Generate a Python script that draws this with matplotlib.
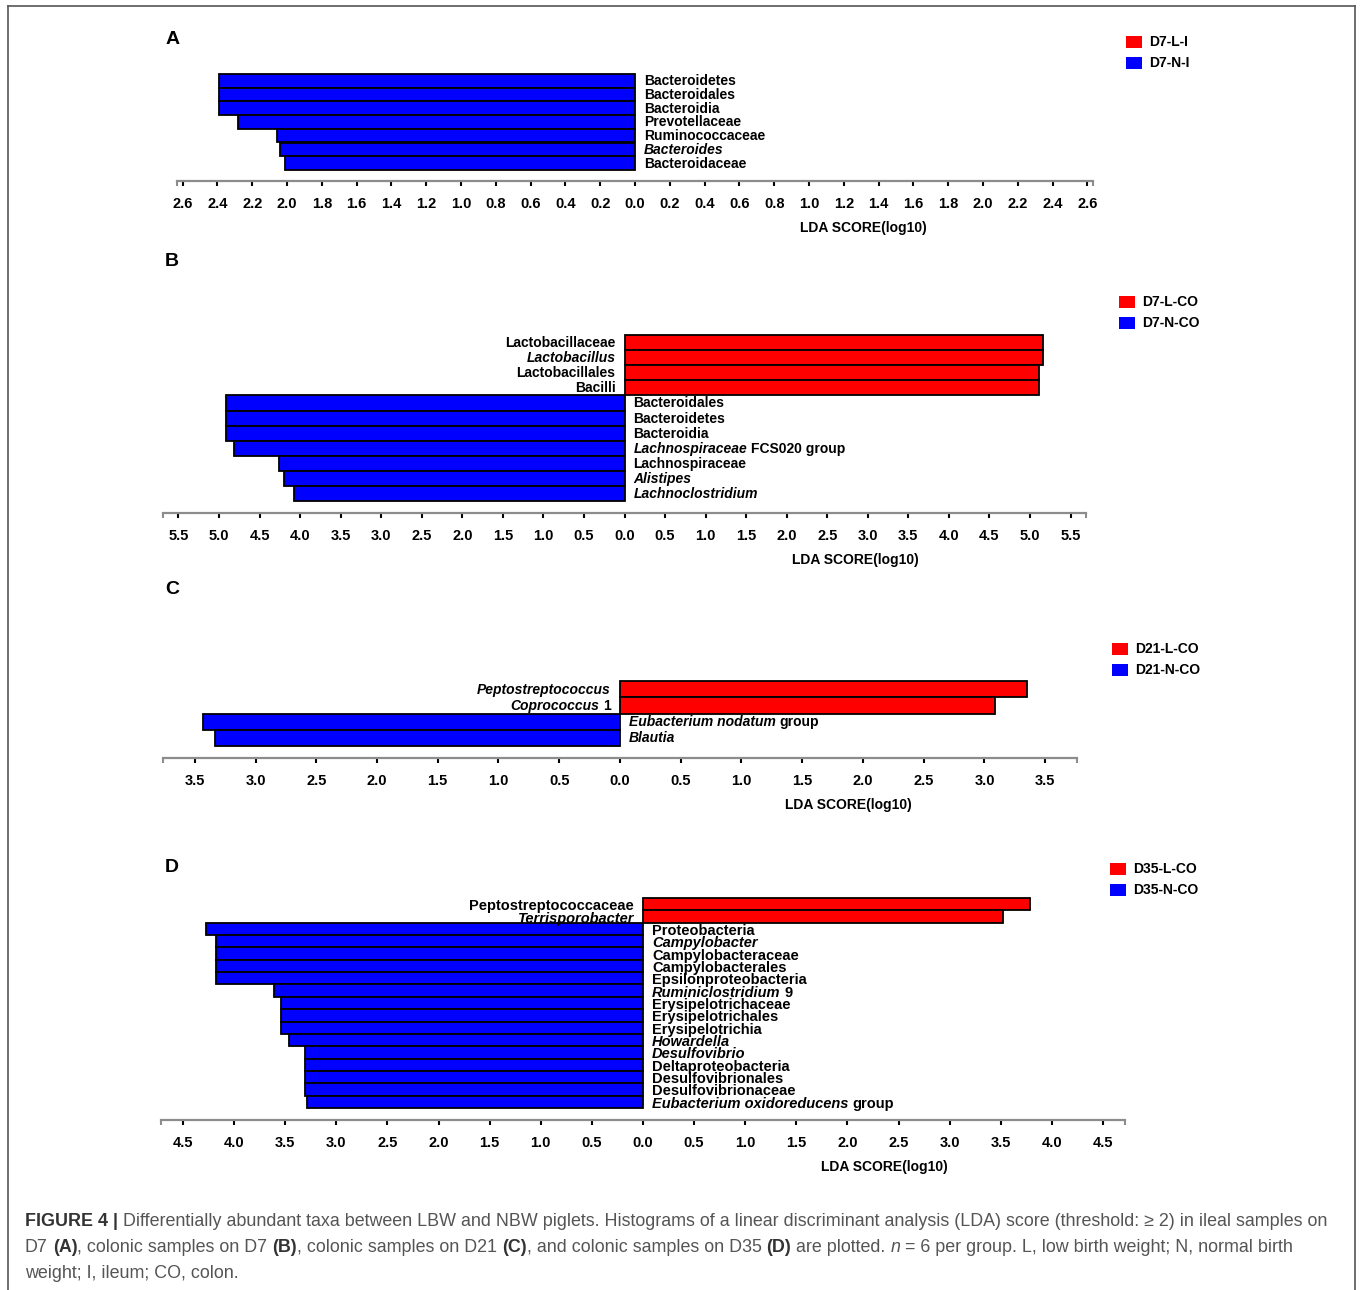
import re
import numpy as np
import matplotlib
matplotlib.use("Agg")
import matplotlib.pyplot as plt
from matplotlib.patches import Rectangle
from matplotlib.lines import Line2D
from matplotlib.ticker import FuncFormatter

plt.rcParams["font.family"] = ["Liberation Sans", "DejaVu Sans"]

# ---- LDA scores (log10); "_..._" marks italic text ----
a_legend = ["D7-L-I", "D7-N-I"]
a_red_labels = []
a_red_scores = []
a_blue_labels = ["Bacteroidetes", "Bacteroidales", "Bacteroidia", "Prevotellaceae",
                 "Ruminococcaceae", "_Bacteroides_", "Bacteroidaceae"]
a_blue_scores = [2.39, 2.39, 2.39, 2.28, 2.06, 2.04, 2.01]

b_legend = ["D7-L-CO", "D7-N-CO"]
b_red_labels = ["Lactobacillaceae", "_Lactobacillus_", "Lactobacillales", "Bacilli"]
b_red_scores = [5.16, 5.16, 5.11, 5.11]
b_blue_labels = ["Bacteroidales", "Bacteroidetes", "Bacteroidia",
                 "_Lachnospiraceae_ FCS020 group", "Lachnospiraceae",
                 "_Alistipes_", "_Lachnoclostridium_"]
b_blue_scores = [4.91, 4.91, 4.91, 4.82, 4.26, 4.20, 4.08]

c_legend = ["D21-L-CO", "D21-N-CO"]
c_red_labels = ["_Peptostreptococcus_", "_Coprococcus_ 1"]
c_red_scores = [3.35, 3.09]
c_blue_labels = ["_Eubacterium nodatum_ group", "_Blautia_"]
c_blue_scores = [3.43, 3.33]

d_legend = ["D35-L-CO", "D35-N-CO"]
d_red_labels = ["Peptostreptococcaceae", "_Terrisporobacter_"]
d_red_scores = [3.79, 3.52]
d_blue_labels = ["Proteobacteria", "_Campylobacter_", "Campylobacteraceae",
                 "Campylobacterales", "Epsilonproteobacteria", "_Ruminiclostridium_ 9",
                 "Erysipelotrichaceae", "Erysipelotrichales", "Erysipelotrichia",
                 "_Howardella_", "_Desulfovibrio_", "Deltaproteobacteria",
                 "Desulfovibrionales", "Desulfovibrionaceae",
                 "_Eubacterium oxidoreducens_ group"]
d_blue_scores = [4.28, 4.18, 4.18, 4.18, 4.18, 3.61, 3.54, 3.54, 3.54,
                 3.46, 3.31, 3.31, 3.31, 3.31, 3.29]

caption_lines = [
    "**FIGURE 4 |** Differentially abundant taxa between LBW and NBW piglets. Histograms of a "
    "linear discriminant analysis (LDA) score (threshold: \u2265 2) in ileal samples on",
    "D7 **(A)**, colonic samples on D7 **(B)**, colonic samples on D21 **(C)**, and colonic "
    "samples on D35 **(D)** are plotted. _n_ = 6 per group. L, low birth weight; N, normal birth",
    "weight; I, ileum; CO, colon.",
]

RED = "#ff0000"
BLUE = "#0000ff"
GREY = "#8c8c8c"

W, H = 1360, 1290
fig = plt.figure(figsize=(W / 100, H / 100), dpi=100)
renderer = fig.canvas.get_renderer()


def px_rect(x0, y0, x1, y1):
    return [x0 / W, 1 - y1 / H, (x1 - x0) / W, (y1 - y0) / H]


def text_width(s, **props):
    t = fig.text(0, 0, s, **props)
    w = t.get_window_extent(renderer).width
    t.remove()
    return w


def split_runs(s, base_weight):
    # split "**bold**" and "_italic_" pieces out of a plain string
    runs = []
    for piece in re.split(r"(\*\*[^*]+\*\*|_[^_]+_)", s):
        if not piece:
            continue
        if piece.startswith("**"):
            runs.append((piece[2:-2], "bold", "normal"))
        elif piece.startswith("_") and piece.endswith("_") and len(piece) > 1:
            runs.append((piece[1:-1], base_weight, "italic"))
        else:
            runs.append((piece, base_weight, "normal"))
    return runs


def draw_runs(ax, s, xy, xycoords, dx, ha, fontsize, base_weight="bold", color="black",
              bold_color=None, dy=0.0):
    runs = split_runs(s, base_weight)
    placed = []
    cur = 0.0
    for raw, weight, style in runs:
        props = dict(fontsize=fontsize, fontweight=weight, fontstyle=style)
        space = text_width("a a", **props) - text_width("aa", **props)
        if raw.startswith(" "):
            cur += space
        core = raw.strip()
        if core:
            placed.append((core, props, cur))
            cur += text_width(core, **props)
        if raw.endswith(" ") and core:
            cur += space
    start = dx if ha == "left" else dx - cur
    for core, props, off in placed:
        c = bold_color if (bold_color and props["fontweight"] == "bold") else color
        ax.annotate(core, xy=xy, xycoords=xycoords,
                    xytext=((start + off) * 0.72, -dy * 0.72), textcoords="offset points",
                    ha="left", va="center", color=c, annotation_clip=False, **props)


panels = [
    dict(letter="A", legend=a_legend, red=(a_red_labels, a_red_scores),
         blue=(a_blue_labels, a_blue_scores), zero=635, unit=174.0, lim=2.63,
         tmax=2.6, step=0.2, top=74, bar_h=13.7, axis_y=181, fs=10, dy=0.5,
         letter_xy=(173, 39), leg_x=1126, leg_y=42),
    dict(letter="B", legend=b_legend, red=(b_red_labels, b_red_scores),
         blue=(b_blue_labels, b_blue_scores), zero=624.5, unit=81.1, lim=5.69,
         tmax=5.5, step=0.5, top=335, bar_h=15.1, axis_y=513, fs=10, dy=0.5,
         letter_xy=(172, 262), leg_x=1119, leg_y=302),
    dict(letter="C", legend=c_legend, red=(c_red_labels, c_red_scores),
         blue=(c_blue_labels, c_blue_scores), zero=620, unit=121.5, lim=3.76,
         tmax=3.5, step=0.5, top=681, bar_h=16.25, axis_y=758, fs=10, dy=0.5,
         letter_xy=(172, 590), leg_x=1112, leg_y=649),
    dict(letter="D", legend=d_legend, red=(d_red_labels, d_red_scores),
         blue=(d_blue_labels, d_blue_scores), zero=643, unit=102.2, lim=4.72,
         tmax=4.5, step=0.5, top=898, bar_h=12.35, axis_y=1120, fs=10.5, dy=2,
         letter_xy=(172, 867), leg_x=1110, leg_y=869),
]

for p in panels:
    red_labels, red_scores = p["red"]
    blue_labels, blue_scores = p["blue"]
    labels = list(red_labels) + list(blue_labels)
    scores = list(red_scores) + [-v for v in blue_scores]
    colors = [RED] * len(red_labels) + [BLUE] * len(blue_labels)
    n = len(labels)

    x0 = p["zero"] - p["lim"] * p["unit"]
    x1 = p["zero"] + p["lim"] * p["unit"]
    ax = fig.add_axes(px_rect(x0, p["top"], x1, p["axis_y"]))

    pos = np.arange(n)
    bars = ax.barh(pos, scores, height=1.0, color=colors, edgecolor="black", linewidth=1.3)
    for b in bars:
        b.set_clip_on(False)

    gap = (p["axis_y"] - p["top"]) / p["bar_h"] - n
    ax.set_ylim(n - 0.5 + gap, -0.5)
    ax.set_xlim(-p["lim"], p["lim"])

    # symmetric axis, labelled with absolute values
    ticks = np.round(np.arange(-p["tmax"], p["tmax"] + p["step"] / 2, p["step"]), 2)
    ax.set_xticks(ticks)
    ax.xaxis.set_major_formatter(FuncFormatter(lambda v, _: f"{abs(v):.1f}"))
    ax.set_xticks([-p["lim"], p["lim"]], minor=True)
    ax.tick_params(axis="x", which="major", direction="out", length=3.6, width=1.5,
                   color="black", pad=8, labelsize=10.5)
    ax.tick_params(axis="x", which="minor", direction="out", length=3.6, width=1.5,
                   color=GREY)
    for lbl in ax.get_xticklabels():
        lbl.set_fontweight("bold")
    ax.set_yticks([])
    for side in ["top", "left", "right"]:
        ax.spines[side].set_visible(False)
    ax.spines["bottom"].set_color(GREY)
    ax.spines["bottom"].set_linewidth(1.6)
    ax.patch.set_visible(False)

    ax.annotate("LDA SCORE(log10)", xy=(0.75, 0), xycoords="axes fraction",
                xytext=(0, -47 * 0.72), textcoords="offset points",
                ha="center", va="center", fontsize=10, fontweight="bold")

    # taxon names sit on the opposite side of zero from their bar
    for i, (lab, v) in enumerate(zip(labels, scores)):
        if v > 0:
            draw_runs(ax, lab, (0, i), "data", -9, "right", p["fs"], dy=p["dy"])
        else:
            draw_runs(ax, lab, (0, i), "data", 9, "left", p["fs"], dy=p["dy"])

    lx, ly = p["letter_xy"]
    fig.text(lx / W, 1 - ly / H, p["letter"], fontsize=14, fontweight="bold",
             ha="center", va="center")

    for k, (name, col) in enumerate(zip(p["legend"], [RED, BLUE])):
        cy = p["leg_y"] + 21 * k
        fig.add_artist(Rectangle((p["leg_x"] / W, 1 - (cy + 6) / H), 16 / W, 12 / H,
                                 transform=fig.transFigure, facecolor=col, edgecolor="none"))
        fig.text((p["leg_x"] + 23) / W, 1 - cy / H, name, fontsize=10,
                 fontweight="bold", ha="left", va="center")

# caption under the panels
cap_ax = fig.axes[0]
for k, line in enumerate(caption_lines):
    y = H - (1222 + 25.7 * k)
    draw_runs(cap_ax, line, (25, y), "figure pixels", 0, "left", 12.9,
              base_weight="normal", color="#555555", bold_color="#333333")

# outer frame
frame = dict(color="#555555", linewidth=1.2, transform=fig.transFigure)
fig.add_artist(Line2D([8 / W, 8 / W], [0, 1 - 6 / H], **frame))
fig.add_artist(Line2D([1355 / W, 1355 / W], [0, 1 - 6 / H], **frame))
fig.add_artist(Line2D([8 / W, 1355 / W], [1 - 6 / H, 1 - 6 / H], **frame))

fig.savefig("out.png", dpi=100)
